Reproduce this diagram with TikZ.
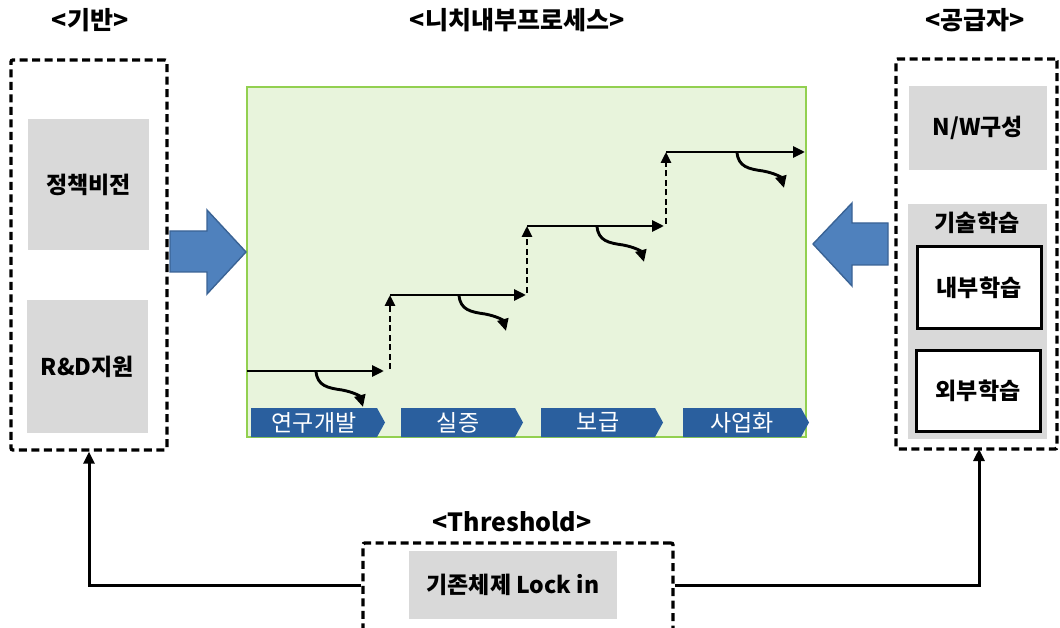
\documentclass[tikz,border=0pt]{standalone}
\usepackage{fontspec}
\setmainfont{Noto Sans CJK KR}
\usetikzlibrary{arrows.meta,shapes.symbols}
\definecolor{gboxc}{HTML}{D9D9D9}
\definecolor{chevc}{HTML}{2A5F9E}
\definecolor{pfill}{HTML}{E8F4DC}
\definecolor{pline}{HTML}{92D050}
\definecolor{barrow}{HTML}{4F81BD}
\definecolor{barrowd}{HTML}{3A6395}
\begin{document}
\begin{tikzpicture}[x=1pt,y=-1pt,
  titlec/.style={font=\bfseries\fontsize{25}{30}\selectfont, inner sep=0pt},
  dbox/.style={draw=black, line width=3.4pt, dash pattern=on 8pt off 4.5pt, rounded corners=2pt, inner sep=0pt},
  gbox/.style={fill=gboxc, inner sep=0pt, font=\bfseries\fontsize{23}{27}\selectfont},
  wbox/.style={draw=black, fill=white, line width=3pt, inner sep=0pt, font=\bfseries\fontsize{23}{27}\selectfont},
  proc/.style={draw=pline, fill=pfill, line width=2pt, inner sep=0pt},
  chevron/.style={shape=signal, signal to=east, signal pointer angle=122, fill=chevc, text=white, inner sep=0pt, minimum height=29pt, font=\fontsize{23}{27}\selectfont},
  stepline/.style={line width=2.9pt, -{Triangle[length=12pt,width=11pt]}},
  stepdash/.style={line width=2.6pt, dash pattern=on 6pt off 3.5pt, -{Triangle[length=11pt,width=10pt]}},
  curvy/.style={line width=2.9pt, -{Triangle[length=12pt,width=11pt]}},
  bigarrow/.style={fill=barrow, draw=barrowd, line width=1.4pt},
  conn/.style={line width=3pt, -{Triangle[length=12pt,width=11pt]}}
]
\useasboundingbox (0,0) rectangle (1060,628);

% titles
\node[titlec] (tleft) at (90,20) {<기반>};
\node[titlec] (tmid) at (517,20) {<니치내부프로세스>};
\node[titlec] (tright) at (975,20) {<공급자>};
\node[titlec] (tbot) at (512,522) {<Threshold>};

% left panel
\node[dbox, minimum width=156pt, minimum height=390pt] (left) at (89,255) {};
\node[gbox, minimum width=121pt, minimum height=131pt] (pv) at (88.5,184.5) {정책비전};
\node[gbox, minimum width=121pt, minimum height=133pt] (rd) at (87.5,366.5) {R\&D지원};

% right panel
\node[dbox, minimum width=161pt, minimum height=390pt] (right) at (976.5,254) {};
\node[gbox, minimum width=138pt, minimum height=84pt] (nw) at (978,128) {N/W구성};
\node[gbox, minimum width=139pt, minimum height=235pt] (tl) at (977.5,321.5) {};
\node[font=\bfseries\fontsize{23}{27}\selectfont, inner sep=0pt] (tllab) at (977,223) {기술학습};
\node[wbox, minimum width=124pt, minimum height=81pt] (inner) at (979,287.5) {내부학습};
\node[wbox, minimum width=124pt, minimum height=81pt] (outer) at (978,390.5) {외부학습};

% process box
\node[proc, minimum width=559pt, minimum height=350pt] (proc) at (526.5,262) {};

% block arrows
\draw[bigarrow] (170,231) -- (207,231) -- (207,210) -- (246,252) -- (207,294) -- (207,272) -- (170,272) -- cycle;
\draw[bigarrow] (888,223) -- (852,223) -- (852,203) -- (813,244) -- (852,286) -- (852,265) -- (888,265) -- cycle;

% chevrons
\node[chevron, minimum width=134pt] (c1) at (314,422.5) {연구개발};
\node[chevron, minimum width=122pt] (c2) at (458,422.5) {실증};
\node[chevron, minimum width=122pt] (c3) at (598,422.5) {보급};
\node[chevron, minimum width=126pt] (c4) at (742,422.5) {사업화};

% staircase
\coordinate (s1a) at (247,371); \coordinate (s1b) at (384,371);
\coordinate (d1a) at (390,369); \coordinate (s2a) at (390,295); \coordinate (s2b) at (526,295);
\coordinate (d2a) at (527,293); \coordinate (s3a) at (527,226); \coordinate (s3b) at (664,226);
\coordinate (d3a) at (666,224); \coordinate (s4a) at (666,152); \coordinate (s4b) at (805,152);
\draw[stepline] (s1a) -- (s1b);
\draw[stepdash] (d1a) -- (s2a);
\draw[stepline] (s2a) -- (s2b);
\draw[stepdash] (d2a) -- (s3a);
\draw[stepline] (s3a) -- (s3b);
\draw[stepdash] (d3a) -- (s4a);
\draw[stepline] (s4a) -- (s4b);
\foreach \dx/\dy in {0/0, 143/-76, 281/-145, 421/-219}{
  \draw[curvy] (316+\dx,371+\dy) .. controls (317+\dx,386+\dy) and (328+\dx,388+\dy) .. (342+\dx,390+\dy)
     .. controls (353+\dx,392+\dy) and (360+\dx,396+\dy) .. (363+\dx,407+\dy);
}

% threshold
\node[dbox, minimum width=310pt, minimum height=94pt] (thbox) at (518,590) {};
\node[gbox, minimum width=208pt, minimum height=68pt] (lock) at (513,585) {기존체제 Lock in};

\coordinate (rjoin) at (979,449);
\draw[conn] (lock.center -| thbox.west) -| (left.south);
\draw[conn] (lock.center -| thbox.east) -| (rjoin);
\end{tikzpicture}
\end{document}
